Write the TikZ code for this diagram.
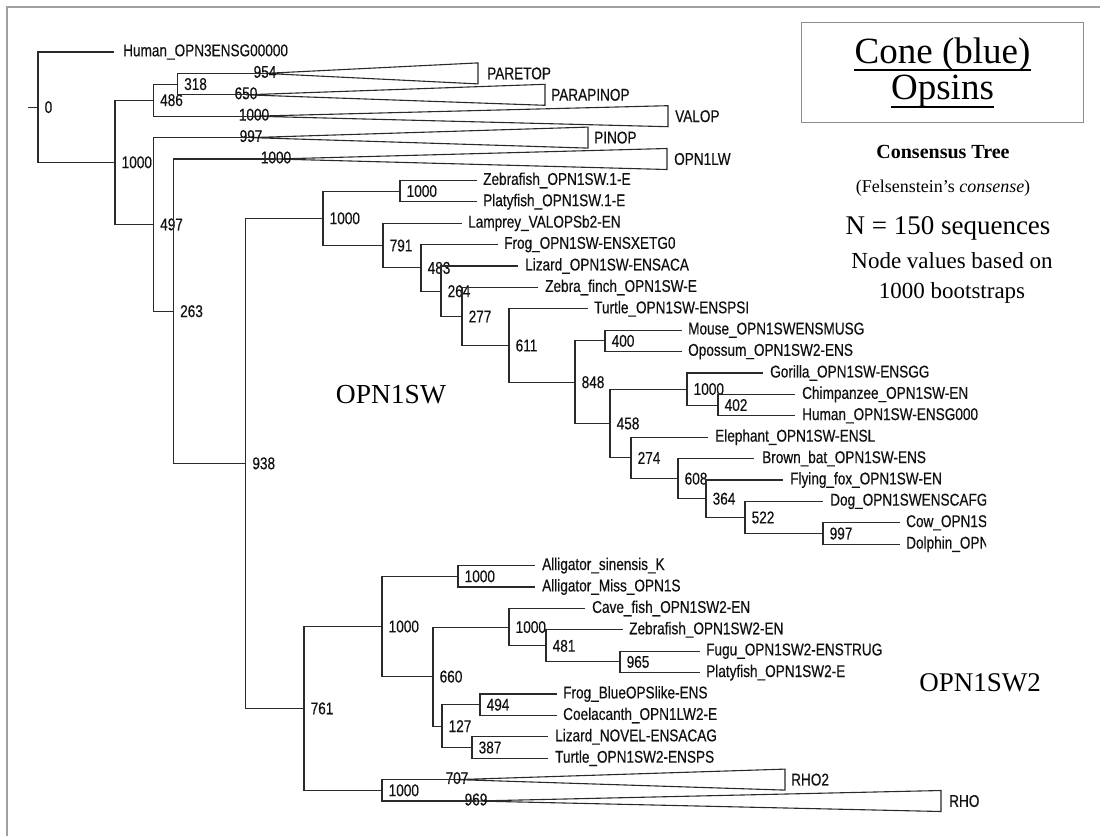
\documentclass[tikz,border=0pt]{standalone}
\usepackage{fontspec}
\setmainfont{Liberation Serif}
\newfontfamily\treefont[FakeStretch=0.8,FakeBold=0.4]{Liberation Sans}
\usetikzlibrary{calc}
\definecolor{treec}{HTML}{2A2A2A}
\definecolor{txtc}{HTML}{111111}
\definecolor{framec}{HTML}{A0A0A0}
\definecolor{boxc}{HTML}{8C8C8C}
\newcommand\tf{\treefont\fontsize{17}{17}\selectfont}
\newcommand\tnode[4]{\coordinate (#1) at (#2,#3); \node[bs] (#1l) at ({#2+6.5},#3) {#4};}
\newcommand\tleaf[5]{\coordinate (#1) at (#2,#3); \node[lf] (#1l) at (#4,#3) {#5};}
\newcommand\ttri[7]{%
  \coordinate (#1) at (#2,#3);
  \coordinate (#1t) at (#4,{#3-10.5});
  \coordinate (#1b) at (#4,{#3+10.5});
  \draw[tri] (#1) -- (#1t) -- (#1b) -- cycle;
  \node[lf] (#1l) at (#5,#3) {#6};
  \node[bl] (#1n) at (#2,{#3-1.5}) {#7};}
\begin{document}
\begin{tikzpicture}[x=1pt,y=-1pt,
  br/.style={draw=treec,line width=1.1pt},
  tri/.style={draw=treec,line width=1.1pt,line join=miter},
  lf/.style={font=\tf,anchor=west,inner sep=0pt,text=txtc},
  bs/.style={font=\tf,anchor=west,inner sep=0pt,text=txtc},
  bl/.style={font=\tf,anchor=center,inner sep=0pt,text=txtc},
  ttl/.style={font=\fontsize{37}{37}\selectfont,anchor=base,inner sep=0pt,text=black},
  info/.style={anchor=base,inner sep=0pt,text=black},
  uline/.style={draw=black,line width=1.6pt}]
\useasboundingbox (0,0) rectangle (1105,836);
\fill[white] (0,0) rectangle (1105,836);
% frame
\draw[framec,line width=2pt] (7,836) -- (7,7) -- (1100,7);
% title box
\node[draw=boxc,line width=0.9pt,minimum width=282pt,minimum height=100pt,inner sep=0pt] (titlebox) at (942,72) {};
\node[ttl] (t1) at (942.5,63) {Cone (blue)};
\node[ttl] (t2) at (942.5,99) {Opsins};
\draw[uline] ($(t1.base west)+(0,7)$) -- ($(t1.base east)+(0,7)$);
\draw[uline] ($(t2.base west)+(0,8)$) -- ($(t2.base east)+(0,8)$);
\node[info,font=\fontsize{20}{20}\selectfont\bfseries] (ct) at (943,158) {Consensus Tree};
\node[info,font=\fontsize{18}{18}\selectfont] (fc) at (943,192) {(Felsenstein’s \textit{consense})};
\node[info,font=\fontsize{27}{27}\selectfont] (nn) at (948,234) {N = 150 sequences};
\node[info,font=\fontsize{23}{23}\selectfont] (nv) at (952,268) {Node values based on};
\node[info,font=\fontsize{23}{23}\selectfont] (nb) at (952,298) {1000 bootstraps};
\node[font=\fontsize{27.5}{27.5}\selectfont,inner sep=0pt] (sw1) at (391,395) {OPN1SW};
\node[font=\fontsize{27}{27}\selectfont,inner sep=0pt] (sw2) at (980,683) {OPN1SW2};
\begin{scope}
\clip (0,0) rectangle (986,836);
% internal nodes
\tnode{root}{38}{107.15}{0}
\tnode{n1000a}{115}{162.3}{1000}
\tnode{n486}{153.5}{100.15}{486}
\tnode{n318}{177.5}{84.1}{318}
\tnode{n497}{153.5}{224.4}{497}
\tnode{n263}{173.5}{311.2}{263}
\tnode{n938}{245.7}{463.35}{938}
\tnode{n1000b}{323}{218.3}{1000}
\tnode{n1000c}{400}{191.1}{1000}
\tnode{n791}{383}{245.55}{791}
\tnode{n483}{421}{267.9}{483}
\tnode{n264}{441}{291.2}{264}
\tnode{n277}{462}{316.45}{277}
\tnode{n611}{509}{345.5}{611}
\tnode{n848}{575}{382.2}{848}
\tnode{n400}{605}{340.9}{400}
\tnode{n458}{610}{423.5}{458}
\tnode{n1000d}{687}{389.05}{1000}
\tnode{n402}{718}{405.1}{402}
\tnode{n274}{631}{457.9}{274}
\tnode{n608}{678}{478.65}{608}
\tnode{n364}{706}{498.7}{364}
\tnode{n522}{745}{517.45}{522}
\tnode{n997}{823}{533.5}{997}
\tnode{n761}{304}{708.4}{761}
\tnode{n1000e}{382}{626.45}{1000}
\tnode{nAll}{458}{576.3}{1000}
\tnode{n660}{433}{676.6}{660}
\tnode{nCave}{509}{627.1}{1000}
\tnode{n481}{546}{645.85}{481}
\tnode{n965}{620}{661.9}{965}
\tnode{n127}{442}{726.1}{127}
\tnode{n494}{480}{704.7}{494}
\tnode{n387}{472}{747.5}{387}
\tnode{nRHO}{382}{790.3}{1000}
% leaves
\tleaf{hOPN3}{114}{52}{123}{Human\_OPN3ENSG00000}
\tleaf{zf1}{477}{180.4}{483}{Zebrafish\_OPN1SW.1-E}
\tleaf{pf1}{477}{201.8}{483}{Platyfish\_OPN1SW.1-E}
\tleaf{lamprey}{462}{223.2}{468}{Lamprey\_VALOPSb2-EN}
\tleaf{frog1}{498}{244.6}{504}{Frog\_OPN1SW-ENSXETG0}
\tleaf{lizard1}{518}{266}{525}{Lizard\_OPN1SW-ENSACA}
\tleaf{zfinch}{538}{287.4}{545}{Zebra\_finch\_OPN1SW-E}
\tleaf{turtle1}{588}{308.8}{594}{Turtle\_OPN1SW-ENSPSI}
\tleaf{mouse}{682}{330.2}{688}{Mouse\_OPN1SWENSMUSG}
\tleaf{opossum}{682}{351.6}{688}{Opossum\_OPN1SW2-ENS}
\tleaf{gorilla}{763}{373}{770}{Gorilla\_OPN1SW-ENSGG}
\tleaf{chimp}{795}{394.4}{802}{Chimpanzee\_OPN1SW-EN}
\tleaf{human1}{795}{415.8}{802}{Human\_OPN1SW-ENSG000}
\tleaf{elephant}{708}{437.2}{715}{Elephant\_OPN1SW-ENSL}
\tleaf{bat}{754}{458.6}{762}{Brown\_bat\_OPN1SW-ENS}
\tleaf{ffox}{783}{480}{790}{Flying\_fox\_OPN1SW-EN}
\tleaf{dog}{823}{501.4}{830}{Dog\_OPN1SWENSCAFG}
\tleaf{cow}{900}{522.8}{906}{Cow\_OPN1SW-ENSBTAG}
\tleaf{dolphin}{900}{544.2}{906}{Dolphin\_OPN1SW-ENSTTRG}
\tleaf{allsin}{535}{565.6}{542}{Alligator\_sinensis\_K}
\tleaf{allmiss}{535}{587}{542}{Alligator\_Miss\_OPN1S}
\tleaf{cave}{585}{608.4}{592}{Cave\_fish\_OPN1SW2-EN}
\tleaf{zf2}{623}{629.8}{629}{Zebrafish\_OPN1SW2-EN}
\tleaf{fugu}{700}{651.2}{706}{Fugu\_OPN1SW2-ENSTRUG}
\tleaf{pf2}{700}{672.6}{706}{Platyfish\_OPN1SW2-E}
\tleaf{frog2}{557}{694}{563}{Frog\_BlueOPSlike-ENS}
\tleaf{coel}{557}{715.4}{563}{Coelacanth\_OPN1LW2-E}
\tleaf{lizard2}{548}{736.8}{555}{Lizard\_NOVEL-ENSACAG}
\tleaf{turtle2}{548}{758.2}{555}{Turtle\_OPN1SW2-ENSPS}
% collapsed clades
\ttri{PARETOP}{265}{73.4}{478}{487}{PARETOP}{954}
\ttri{PARAPINOP}{246}{94.8}{545}{551}{PARAPINOP}{650}
\ttri{VALOP}{254}{116.2}{668}{675}{VALOP}{1000}
\ttri{PINOP}{251}{137.6}{588}{594}{PINOP}{997}
\ttri{OPN1LW}{276}{159}{667}{674}{OPN1LW}{1000}
\ttri{RHO2}{457}{779.6}{785}{791}{RHO2}{707}
\ttri{RHO}{476}{801}{941}{949}{RHO}{969}
% root stub
\coordinate (rs) at (28,107.15);
\draw[br] (rs) -- (root);
% branches
\foreach \p/\c in {root/hOPN3,root/n1000a,n1000a/n486,n1000a/n497,
  n486/n318,n486/VALOP,n318/PARETOP,n318/PARAPINOP,n497/PINOP,n497/n263,
  n263/OPN1LW,n263/n938,n938/n1000b,n938/n761,n1000b/n1000c,n1000b/n791,
  n1000c/zf1,n1000c/pf1,n791/lamprey,n791/n483,n483/frog1,n483/n264,
  n264/lizard1,n264/n277,n277/zfinch,n277/n611,n611/turtle1,n611/n848,
  n848/n400,n848/n458,n400/mouse,n400/opossum,n458/n1000d,n458/n274,
  n1000d/gorilla,n1000d/n402,n402/chimp,n402/human1,n274/elephant,n274/n608,
  n608/bat,n608/n364,n364/ffox,n364/n522,n522/dog,n522/n997,n997/cow,n997/dolphin,
  n761/n1000e,n761/nRHO,n1000e/nAll,n1000e/n660,nAll/allsin,nAll/allmiss,
  n660/nCave,n660/n127,nCave/cave,nCave/n481,n481/zf2,n481/n965,n965/fugu,n965/pf2,
  n127/n494,n127/n387,n494/frog2,n494/coel,n387/lizard2,n387/turtle2,
  nRHO/RHO2,nRHO/RHO}
  \draw[br] (\p) |- (\c);
\end{scope}
\end{tikzpicture}
\end{document}
